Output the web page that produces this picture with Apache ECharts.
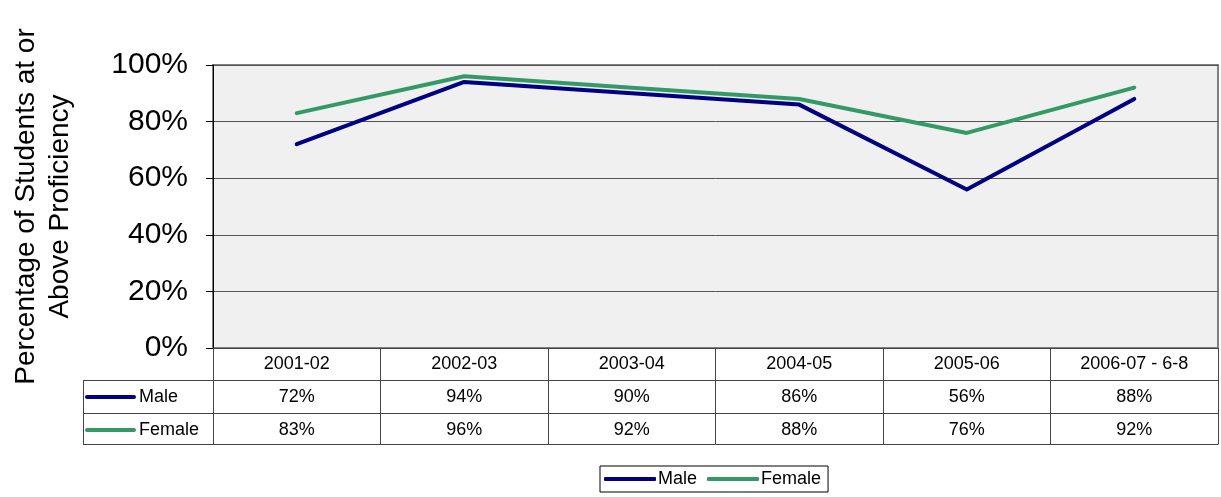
<!DOCTYPE html>
<html>
<head>
<meta charset="utf-8">
<script src="https://cdn.jsdelivr.net/npm/echarts@6/dist/echarts.min.js"></script>
<style>
  html, body { margin: 0; padding: 0; background: #fff; }
  #chart { width: 1221px; height: 497px; }
</style>
</head>
<body>
<div id="chart"></div>
<script>
// school years on the x axis
var years = ["2001-02", "2002-03", "2003-04", "2004-05", "2005-06", "2006-07 - 6-8"];
// percent at or above proficiency
var maleValues = [72, 94, 90, 86, 56, 88];
var femaleValues = [83, 96, 92, 88, 76, 92];
var yTicks = [0, 20, 40, 60, 80, 100];

var maleColor = "#000080";
var femaleColor = "#339966";
var tableLine = "#444";
var font = "Liberation Sans, Arial, sans-serif";

var chart = echarts.init(document.getElementById("chart"));

function rowAxis(values, offset) {
  return {
    type: "category",
    position: "bottom",
    gridIndex: 0,
    offset: offset,
    data: years,
    axisLine: { show: true, lineStyle: { color: tableLine, width: 1 } },
    axisTick: { show: false },
    splitLine: { show: false },
    axisLabel: {
      interval: 0,
      margin: 8,
      color: "#000",
      fontFamily: font,
      fontSize: 18,
      formatter: function (v, i) {
        return values[i] + "%";
      }
    }
  };
}

var option = {
  animation: false,
  textStyle: { fontFamily: font },
  grid: {
    left: 213,
    right: 3,
    top: 65,
    bottom: 149,
    outerBoundsMode: "none",
    containLabel: false,
    show: true,
    backgroundColor: "#f0f0f0",
    borderColor: "#808080",
    borderWidth: 2
  },
  legend: {
    left: 600,
    top: 466,
    itemWidth: 52,
    itemHeight: 4,
    itemGap: 10,
    padding: [4, 7, 4, 4],
    borderColor: "#000",
    borderWidth: 1,
    icon: "roundRect",
    textStyle: { fontSize: 18, color: "#000", fontFamily: font, padding: [0, 0, 0, -3] },
    data: ["Male", "Female"]
  },
  xAxis: [
    {
      // header row of the data table
      type: "category",
      position: "bottom",
      data: years,
      boundaryGap: true,
      axisLine: { show: true, lineStyle: { color: tableLine, width: 1 } },
      axisTick: { show: true, interval: 0, length: 96, lineStyle: { color: tableLine, width: 1 } },
      axisLabel: { interval: 0, margin: 7, color: "#000", fontSize: 18, fontFamily: font },
      splitLine: { show: false }
    },
    rowAxis(maleValues, 32),
    rowAxis(femaleValues, 65),
    {
      type: "category",
      position: "bottom",
      offset: 96,
      data: years,
      axisLine: { show: true, lineStyle: { color: tableLine, width: 1 } },
      axisTick: { show: false },
      axisLabel: { show: false }
    }
  ],
  yAxis: {
    type: "value",
    min: 0,
    max: 100,
    interval: 20,
    name: "Percentage of Students at or\nAbove Proficiency",
    nameLocation: "middle",
    nameGap: 136,
    nameTextStyle: { fontSize: 28, color: "#000", fontFamily: font, lineHeight: 34 },
    axisLine: { show: true, lineStyle: { color: "#000", width: 1 } },
    axisTick: { show: true, length: 7, lineStyle: { color: "#000" } },
    axisLabel: {
      margin: 25,
      color: "#000",
      fontSize: 30,
      fontFamily: font,
      formatter: "{value}%"
    },
    splitLine: { show: true, lineStyle: { color: "#555", width: 1 } }
  },
  series: [
    {
      name: "Male",
      type: "line",
      data: maleValues,
      symbol: "none",
      itemStyle: { color: maleColor },
      lineStyle: { color: maleColor, width: 4, cap: "round", join: "round" }
    },
    {
      name: "Female",
      type: "line",
      data: femaleValues,
      symbol: "none",
      itemStyle: { color: femaleColor },
      lineStyle: { color: femaleColor, width: 4, cap: "round", join: "round" }
    }
  ],
  graphic: [
    // left column of the data table
    { type: "line", shape: { x1: 83, y1: 380.5, x2: 213, y2: 380.5 }, style: { stroke: tableLine, lineWidth: 1 } },
    { type: "line", shape: { x1: 83, y1: 413.5, x2: 213, y2: 413.5 }, style: { stroke: tableLine, lineWidth: 1 } },
    { type: "line", shape: { x1: 83, y1: 444.5, x2: 213, y2: 444.5 }, style: { stroke: tableLine, lineWidth: 1 } },
    { type: "line", shape: { x1: 83.5, y1: 380, x2: 83.5, y2: 445 }, style: { stroke: tableLine, lineWidth: 1 } },
    { type: "line", shape: { x1: 87, y1: 397, x2: 134, y2: 397 }, style: { stroke: maleColor, lineWidth: 4, lineCap: "round" } },
    { type: "text", left: 139, top: 388, style: { text: "Male", fontSize: 18, fill: "#000", fontFamily: font } },
    { type: "line", shape: { x1: 87, y1: 430, x2: 134, y2: 430 }, style: { stroke: femaleColor, lineWidth: 4, lineCap: "round" } },
    { type: "text", left: 139, top: 421, style: { text: "Female", fontSize: 18, fill: "#000", fontFamily: font } }
  ]
};

chart.setOption(option);
</script>
</body>
</html>
